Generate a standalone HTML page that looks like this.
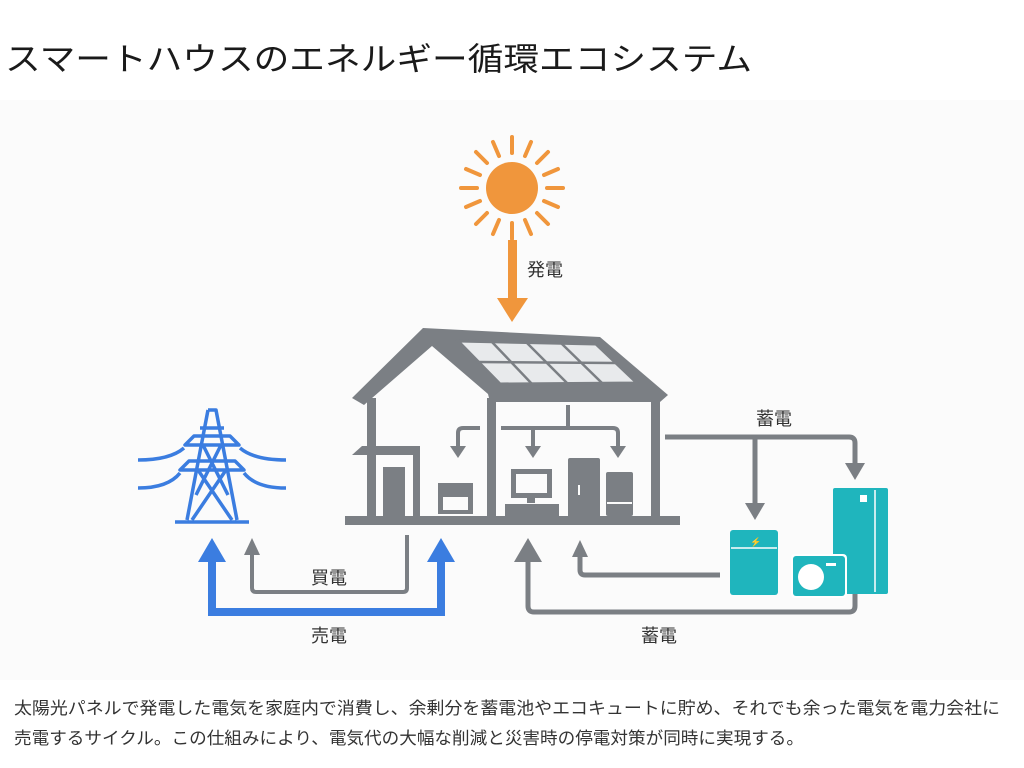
<!DOCTYPE html>
<html><head><meta charset="utf-8"><style>
html,body{margin:0;padding:0;background:#fff;}
svg{display:block;font-family:"Liberation Sans","Noto Sans CJK JP",sans-serif;}
</style></head><body>
<svg width="1024" height="768" viewBox="0 0 1024 768" xmlns="http://www.w3.org/2000/svg">
<rect width="1024" height="768" fill="#fff"/>
<rect x="0" y="100" width="1024" height="580" fill="#fbfbfb"/>
<text x="5" y="70" font-size="32" fill="#1a1a1a" textLength="747" lengthAdjust="spacingAndGlyphs">スマートハウスのエネルギー循環エコシステム</text>

<!-- sun -->
<g stroke="#f0963c" stroke-width="4" stroke-linecap="round">
<circle cx="512" cy="188" r="26" fill="#f0963c" stroke="none"/>
<line x1="512" y1="153" x2="512" y2="137"/><line x1="512" y1="223" x2="512" y2="239"/>
<line x1="477" y1="188" x2="461" y2="188"/><line x1="547" y1="188" x2="563" y2="188"/>
<line x1="487" y1="163" x2="476" y2="152"/><line x1="537" y1="163" x2="548" y2="152"/>
<line x1="487" y1="213" x2="476" y2="224"/><line x1="537" y1="213" x2="548" y2="224"/>
<line x1="499" y1="156" x2="493" y2="142"/><line x1="525" y1="156" x2="531" y2="142"/>
<line x1="499" y1="220" x2="493" y2="234"/><line x1="525" y1="220" x2="531" y2="234"/>
<line x1="480" y1="175" x2="466" y2="169"/><line x1="544" y1="175" x2="558" y2="169"/>
<line x1="480" y1="201" x2="466" y2="207"/><line x1="544" y1="201" x2="558" y2="207"/>
</g>
<rect x="508" y="240" width="9" height="62" fill="#f0963c"/>
<polygon points="497,298 528,298 512,322" fill="#f0963c"/>
<text x="527" y="276" font-size="18" fill="#333">発電</text>

<!-- house -->
<polygon points="352,398 423,328 600,337 668,395 660,402 490,402 488,394 432,346 364,405" fill="#7b7f84"/>
<polygon points="458,341 596,344 637,383 500,384" fill="#e8eaec" stroke="#7b7f84" stroke-width="3"/>
<g stroke="#7b7f84" stroke-width="2.5">
<line x1="478" y1="362" x2="616" y2="363"/>
<line x1="492" y1="342" x2="532" y2="384"/>
<line x1="526" y1="342" x2="568" y2="384"/>
<line x1="561" y1="343" x2="602" y2="383"/>
</g>
<g fill="#7b7f84">
<rect x="367" y="398" width="9" height="122"/>
<rect x="487" y="398" width="9" height="122"/>
<rect x="651" y="398" width="9" height="122"/>
<rect x="345" y="516" width="335" height="9"/>
<polygon points="352,455 362,446 420,446 420,455"/>
<rect x="413" y="450" width="7" height="70"/>
<rect x="383" y="467" width="22" height="53"/>
<rect x="438" y="483" width="35" height="31"/>
<rect x="443" y="497" width="25" height="13" fill="#fbfbfb"/>
<rect x="511" y="469" width="41" height="29"/>
<rect x="516" y="474" width="31" height="19" fill="#fbfbfb"/>
<rect x="527" y="497" width="8" height="6"/>
<rect x="505" y="504" width="54" height="16"/>
<rect x="568" y="458" width="32" height="62" rx="2"/>
<rect x="606" y="472" width="27" height="44" rx="2"/>
</g>
<rect x="578" y="485" width="2" height="10" fill="#fbfbfb"/>
<rect x="607" y="502" width="25" height="2" fill="#fbfbfb"/>
<g fill="none" stroke="#7b7f84" stroke-width="4">
<path d="M480,428 H463 Q458,428 458,433 V448"/>
<path d="M568,405 V428 M501,428 H613 Q618,428 618,433 V448 M533,428 V448"/>
</g>
<g fill="#7b7f84">
<polygon points="450,446 466,446 458,458"/>
<polygon points="525,446 541,446 533,458"/>
<polygon points="610,446 626,446 618,458"/>
</g>

<!-- right side storage lines -->
<g fill="none" stroke="#7b7f84" stroke-width="5">
<path d="M665,437 H849 Q855,437 855,443 V466"/>
<path d="M755,437 V506"/>
<path d="M720,575 H585 Q580,575 580,570 V554"/>
<path d="M855,590 V606 Q855,612 849,612 H534 Q528,612 528,606 V560"/>
</g>
<g fill="#7b7f84">
<polygon points="845,463 865,463 855,480"/>
<polygon points="745,503 765,503 755,520"/>
<polygon points="572,557 588,557 580,540"/>
<polygon points="514,562 542,562 528,538"/>
</g>
<text x="756" y="425" font-size="18" fill="#333">蓄電</text>

<!-- teal devices -->
<rect x="833" y="488" width="55" height="106" rx="2" fill="#1fb5bd"/>
<rect x="730" y="530" width="48" height="65" rx="3" fill="#1fb5bd"/>
<line x1="875" y1="490" x2="875" y2="592" stroke="#fff" stroke-width="1.5"/>
<line x1="731" y1="548" x2="777" y2="548" stroke="#fff" stroke-width="1.5"/>
<rect x="860" y="495" width="7" height="7" fill="#fff"/>
<rect x="791" y="554" width="56" height="44" rx="4" fill="#fff"/>
<rect x="793" y="556" width="52" height="40" rx="3" fill="#1fb5bd"/>
<circle cx="811" cy="577" r="13" fill="#fff"/>
<rect x="826" y="563" width="10" height="3" fill="#fff"/>
<text x="750" y="545" font-size="9" fill="#fff">⚡</text>

<!-- tower -->
<g fill="none" stroke="#3b7de0" stroke-width="3.5" stroke-linejoin="round">
<path d="M208,410 H216 L237,520 M208,410 L187,520 M175,522 H249"/>
<path d="M185,445 H239 L230,436 H194 Z"/>
<path d="M180,470 H244 L235,461 H189 Z"/>
<path d="M203,445 L228,495 M221,445 L196,495 M198,470 L232,520 M226,470 L192,520 M200,428 H224"/>
<path d="M184,448 Q170,460 138,460 M240,448 Q254,460 286,460"/>
<path d="M180,473 Q168,488 138,488 M244,473 Q256,488 286,488"/>
</g>

<!-- left arrows -->
<path d="M212,558 V612 H441 V558" fill="none" stroke="#3b7de0" stroke-width="8"/>
<g fill="#3b7de0">
<polygon points="198,562 226,562 212,538"/>
<polygon points="427,562 455,562 441,538"/>
</g>
<path d="M407,535 V588 Q407,592 403,592 H256 Q252,592 252,588 V552" fill="none" stroke="#7b7f84" stroke-width="4"/>
<polygon points="244,555 260,555 252,538" fill="#7b7f84"/>
<text x="311" y="584" font-size="18" fill="#333">買電</text>
<text x="311" y="642" font-size="18" fill="#333">売電</text>
<text x="641" y="642" font-size="18" fill="#333">蓄電</text>

<text x="14" y="714" font-size="17" fill="#333" textLength="986" lengthAdjust="spacingAndGlyphs">太陽光パネルで発電した電気を家庭内で消費し、余剰分を蓄電池やエコキュートに貯め、それでも余った電気を電力会社に</text>
<text x="14" y="744" font-size="17" fill="#333" textLength="790" lengthAdjust="spacingAndGlyphs">売電するサイクル。この仕組みにより、電気代の大幅な削減と災害時の停電対策が同時に実現する。</text>
</svg>
</body></html>
